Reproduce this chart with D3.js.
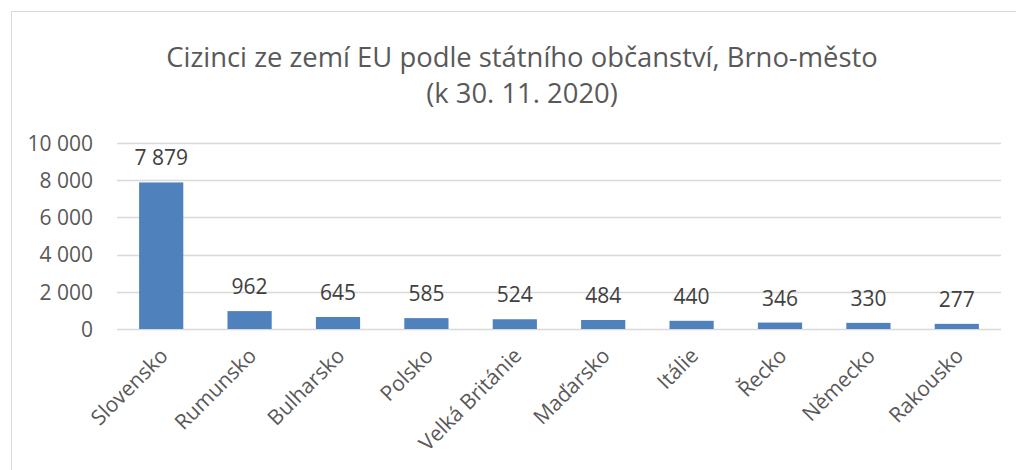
<!DOCTYPE html>
<html><head><meta charset="utf-8">
<script src="https://cdn.jsdelivr.net/npm/d3@7/dist/d3.min.js"></script>
<style>
html,body{margin:0;padding:0;background:#fff;}
svg{display:block;}
</style></head>
<body>
<svg id="c" width="1016" height="470"></svg>
<script>
const titleLines = ["Cizinci ze zemí EU podle státního občanství, Brno-město", "(k 30. 11. 2020)"];
const categories = ["Slovensko","Rumunsko","Bulharsko","Polsko","Velká Británie","Maďarsko","Itálie","Řecko","Německo","Rakousko"];
const values = [7879,962,645,585,524,484,440,346,330,277];
const yTicks = [0,2000,4000,6000,8000,10000];

const svg = d3.select("#c");
const fmt = v => d3.format(",")(v).replace(/,/g, " ");
const textCol = "#595959";
const font = "'Open Sans', sans-serif";

// chart border
svg.append("rect").attr("x",11.5).attr("y",11.5).attr("width",1010).attr("height",470)
  .attr("fill","none").attr("stroke","#D9D9D9").attr("stroke-width",1);

const x = d3.scaleBand().domain(categories).range([117,1001]).paddingInner(0.5).paddingOuter(0.25);
const y = d3.scaleLinear().domain([0,10000]).range([329,143]);

// title
svg.selectAll("text.title").data(titleLines).join("text").attr("class","title")
  .attr("x",522).attr("y",(d,i)=>67+i*36).attr("text-anchor","middle")
  .attr("font-family","'Open Sans',sans-serif").attr("font-size",27.4)
  .attr("fill",textCol).text(d=>d);

// gridlines
svg.append("g").selectAll("line").data(yTicks).join("line")
  .attr("x1",117).attr("x2",1001).attr("y1",d=>Math.round(y(d))+0.5).attr("y2",d=>Math.round(y(d))+0.5)
  .attr("stroke","#D9D9D9").attr("stroke-width",1.5);

// y axis
const yAxis = d3.axisLeft(y).tickValues(yTicks).tickFormat(fmt).tickSize(0).tickPadding(0);
const ya = svg.append("g").attr("transform","translate(93,0)").call(yAxis);
ya.select(".domain").remove();
ya.selectAll("text").attr("font-family",font).attr("font-size",21).attr("fill",textCol).attr("dy","0.35em");

// bars
svg.append("g").selectAll("rect").data(values).join("rect")
  .attr("x",(d,i)=>x(categories[i])).attr("width",x.bandwidth())
  .attr("y",d=>y(d)).attr("height",d=>y(0)-y(d)).attr("fill","#4F81BD");

// value labels
svg.append("g").selectAll("text").data(values).join("text")
  .attr("x",(d,i)=>x(categories[i])+x.bandwidth()/2).attr("y",d=>y(d)-17)
  .attr("text-anchor","middle").attr("font-family",font).attr("font-size",21).attr("fill","#404040")
  .text(d=>fmt(d));

// x axis
const xAxis = d3.axisBottom(x).tickSize(0).tickPadding(0);
const xa = svg.append("g").attr("transform","translate(0,329)").call(xAxis);
xa.select(".domain").remove();
xa.selectAll("text").attr("font-family",font).attr("font-size",21).attr("fill",textCol)
  .attr("text-anchor","end").attr("dy",null)
  .attr("transform","translate(8,28) rotate(-45)");
</script>
</body></html>
